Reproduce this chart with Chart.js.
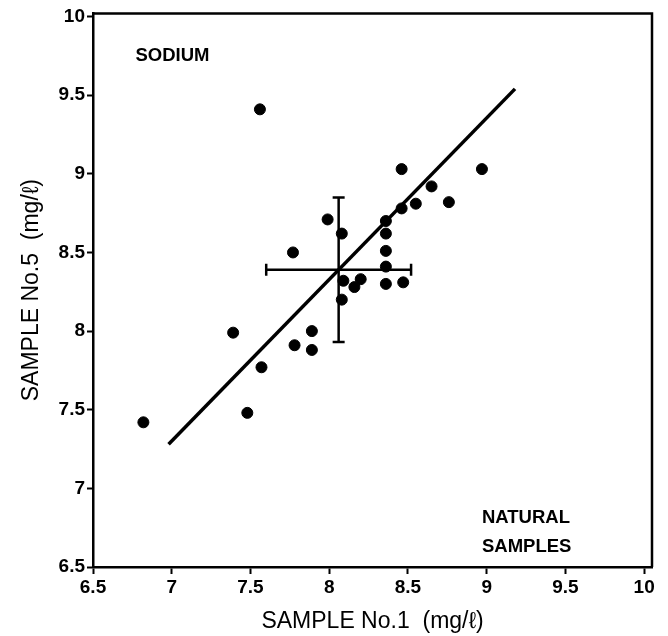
<!DOCTYPE html>
<html>
<head>
<meta charset="utf-8">
<script src="https://cdn.jsdelivr.net/npm/chart.js@4"></script>
<style>
  html, body { margin: 0; padding: 0; background: #fff; }
  #wrap { width: 668px; height: 636px; }
</style>
</head>
<body>
<div id="wrap"><canvas id="sodiumChart" width="668" height="636"></canvas></div>
<script>
// Sodium - natural samples, sample No.1 vs sample No.5

// --- Data ---
const sample1 = [6.82, 7.56, 7.39, 7.57, 7.48, 7.78, 7.89, 7.89, 8.46, 8.97,
                 8.65, 8.55, 8.76, 8.46, 7.99, 8.36, 8.08, 8.36, 8.36, 7.77,
                 8.36, 8.09, 8.20, 8.16, 8.36, 8.47, 8.08];
const sample5 = [7.42, 9.41, 7.99, 7.77, 7.48, 7.91, 8.00, 7.88, 9.03, 9.03,
                 8.92, 8.81, 8.82, 8.78, 8.71, 8.70, 8.62, 8.62, 8.51, 8.50,
                 8.41, 8.32, 8.33, 8.28, 8.30, 8.31, 8.20];

// regression line ends
const fitX = [6.98, 9.18];
const fitY = [7.28, 9.54];

// mean +/- sd cross
const meanX = 8.06, meanY = 8.39;
const sdX = 0.46, sdY = 0.46;

// tick values
const xTicks = [6.5, 7, 7.5, 8, 8.5, 9, 9.5, 10];
const yTicks = [6.5, 7, 7.5, 8, 8.5, 9, 9.5, 10];

const FONT = "'Liberation Sans', Arial, sans-serif";

// --- Helper: frame + labels in the plot ---
const framePlugin = {
  id: "framePlugin",
  afterDraw(chart) {
    const { ctx, chartArea, scales } = chart;
    ctx.save();
    ctx.strokeStyle = "#000";
    ctx.lineWidth = 2.5;
    ctx.beginPath();
    ctx.moveTo(chartArea.left, chartArea.top);
    ctx.lineTo(chartArea.right, chartArea.top);
    ctx.lineTo(chartArea.right, chartArea.bottom);
    ctx.stroke();

    ctx.fillStyle = "#000";
    ctx.textBaseline = "middle";
    ctx.textAlign = "left";
    ctx.font = "bold 18.5px " + FONT;
    ctx.fillText("SODIUM", scales.x.getPixelForValue(6.77), scales.y.getPixelForValue(9.75));
    ctx.fillText("NATURAL", scales.x.getPixelForValue(8.97), scales.y.getPixelForValue(6.81));
    ctx.fillText("SAMPLES", scales.x.getPixelForValue(8.97), scales.y.getPixelForValue(6.63));
    ctx.restore();
  }
};

function toPoints(xs, ys) {
  return xs.map((x, i) => ({ x: x, y: ys[i] }));
}

const ctx = document.getElementById("sodiumChart").getContext("2d");
new Chart(ctx, {
  type: "scatter",
  data: {
    datasets: [
      {
        label: "Samples",
        data: toPoints(sample1, sample5),
        backgroundColor: "#000",
        borderColor: "#000",
        pointRadius: 5.5,
        pointHoverRadius: 5.5
      },
      {
        label: "Fit",
        type: "line",
        data: toPoints(fitX, fitY),
        borderColor: "#000",
        borderWidth: 3.5,
        pointRadius: 0,
        fill: false
      },
      {
        label: "SD No.5",
        type: "line",
        data: [{ x: meanX, y: meanY - sdY }, { x: meanX, y: meanY + sdY }],
        borderColor: "#000",
        borderWidth: 2.5,
        pointStyle: "line",
        pointRadius: 6,
        pointBorderWidth: 2.5,
        pointRotation: 0,
        fill: false
      },
      {
        label: "SD No.1",
        type: "line",
        data: [{ x: meanX - sdX, y: meanY }, { x: meanX + sdX, y: meanY }],
        borderColor: "#000",
        borderWidth: 2.5,
        pointStyle: "line",
        pointRadius: 6,
        pointBorderWidth: 2.5,
        pointRotation: 90,
        fill: false
      }
    ]
  },
  options: {
    responsive: false,
    animation: false,
    events: [],
    layout: { padding: { top: 11, right: 16, left: 0, bottom: 0 } },
    plugins: {
      legend: { display: false },
      tooltip: { enabled: false }
    },
    scales: {
      x: {
        type: "linear",
        min: 6.5,
        max: 10.05,
        afterBuildTicks: (scale) => { scale.ticks = xTicks.map(v => ({ value: v })); },
        afterFit: (scale) => { scale.height = 69; },
        border: { display: true, color: "#000", width: 2.5 },
        grid: { drawOnChartArea: false, color: "#000", tickLength: 7, tickWidth: 2 },
        ticks: {
          color: "#000",
          padding: 2,
          maxRotation: 0,
          autoSkip: false,
          font: { family: FONT, size: 19, weight: "bold" },
          callback: (v) => String(v)
        },
        title: {
          display: true,
          text: "SAMPLE No.1  (mg/\u2113)",
          color: "#000",
          font: { family: FONT, size: 23 },
          padding: { top: 0, bottom: 1 }
        }
      },
      y: {
        type: "linear",
        min: 6.5,
        max: 10.02,
        afterBuildTicks: (scale) => { scale.ticks = yTicks.map(v => ({ value: v })); },
        afterFit: (scale) => { scale.width = 93; },
        border: { display: true, color: "#000", width: 2.5 },
        grid: { drawOnChartArea: false, color: "#000", tickLength: 6, tickWidth: 2 },
        ticks: {
          color: "#000",
          padding: 2,
          autoSkip: false,
          font: { family: FONT, size: 19, weight: "bold" },
          callback: (v) => String(v)
        },
        title: {
          display: true,
          text: "SAMPLE No.5  (mg/\u2113)",
          color: "#000",
          font: { family: FONT, size: 23 },
          padding: { top: 18, bottom: 0 }
        }
      }
    }
  },
  plugins: [framePlugin]
});
</script>
</body>
</html>
